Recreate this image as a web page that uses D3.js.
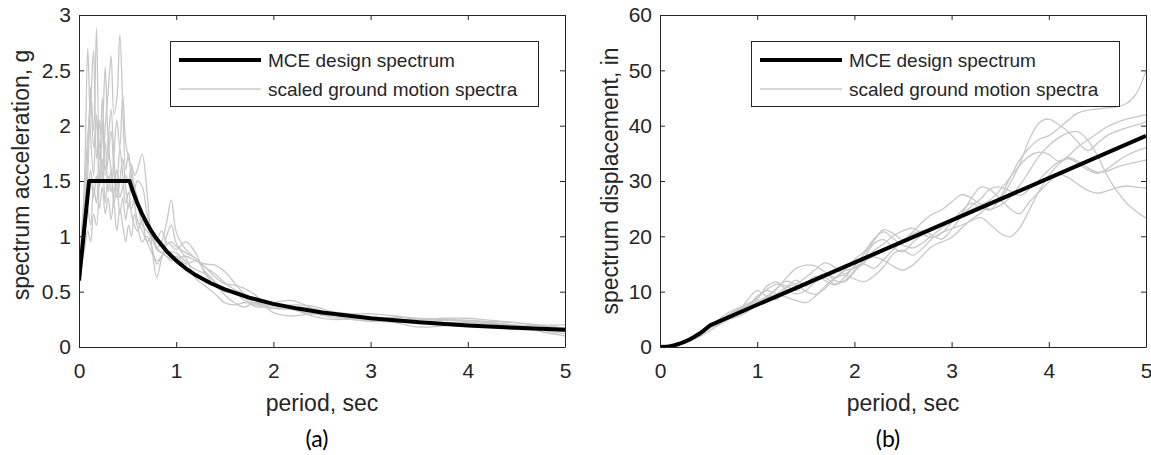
<!DOCTYPE html>
<html>
<head>
<meta charset="utf-8">
<script src="https://cdn.jsdelivr.net/npm/d3@7"></script>
<style>
  html, body { margin: 0; padding: 0; background: #fff; }
  svg { display: block; font-family: "Liberation Sans", Arial, Helvetica, sans-serif; }
</style>
</head>
<body>
<svg id="chart" width="1151" height="455"></svg>
<script>
// ---------- data ----------
const xTicks = [0, 1, 2, 3, 4, 5];
const saTicks = [0, 0.5, 1, 1.5, 2, 2.5, 3];
const sdTicks = [0, 10, 20, 30, 40, 50, 60];
const legendLabels = ["MCE design spectrum", "scaled ground motion spectra"];

// MCE design spectrum, acceleration (g)
const designSaT = [0, 0.104, 0.52, 0.55, 0.6, 0.65, 0.7, 0.75, 0.8, 0.9, 1.0, 1.1, 1.2, 1.35, 1.5, 1.75, 2.0, 2.25, 2.5, 3.0, 3.5, 4.0, 4.5, 5.0];
const designSa  = [0.6, 1.5, 1.5, 1.418, 1.3, 1.2, 1.114, 1.04, 0.975, 0.867, 0.78, 0.709, 0.65, 0.578, 0.52, 0.446, 0.39, 0.347, 0.312, 0.26, 0.223, 0.195, 0.173, 0.156];

// MCE design spectrum, displacement (in)
const designSdT = [0, 0.05, 0.104, 0.15, 0.2, 0.25, 0.3, 0.35, 0.4, 0.45, 0.52, 1.0, 2.0, 3.0, 4.0, 5.0];
const designSd  = [0, 0.025, 0.159, 0.33, 0.587, 0.917, 1.32, 1.797, 2.347, 2.971, 3.967, 7.63, 15.26, 22.89, 30.52, 38.15];

// scaled ground motion spectra, acceleration (g)
const gmSaT = [0, 0.03, 0.06, 0.09, 0.12, 0.15, 0.18, 0.21, 0.24, 0.27, 0.30, 0.33, 0.36, 0.39, 0.42, 0.45, 0.48, 0.51, 0.54, 0.57, 0.60, 0.65, 0.70, 0.75, 0.80, 0.85, 0.90, 0.95, 1.00, 1.10, 1.20, 1.30, 1.40, 1.50, 1.60, 1.70, 1.80, 1.90, 2.00, 2.20, 2.40, 2.60, 2.80, 3.00, 3.25, 3.50, 3.75, 4.00, 4.25, 4.50, 4.75, 5.00];
const gmSa1 = [0.60, 0.95, 1.60, 2.70, 1.90, 1.55, 2.10, 1.70, 2.25, 1.60, 1.85, 2.15, 1.70, 1.45, 1.80, 1.55, 1.30, 1.40, 1.20, 1.10, 1.05, 1.15, 0.95, 1.00, 0.90, 0.95, 1.12, 1.33, 1.04, 0.88, 0.80, 0.72, 0.66, 0.58, 0.52, 0.48, 0.44, 0.38, 0.35, 0.34, 0.33, 0.30, 0.28, 0.26, 0.25, 0.25, 0.25, 0.24, 0.23, 0.22, 0.20, 0.20];
const gmSa2 = [0.58, 0.85, 1.30, 1.75, 2.30, 1.95, 2.88, 1.80, 2.05, 1.55, 1.70, 1.95, 1.60, 1.35, 1.50, 1.70, 1.45, 1.25, 1.55, 1.40, 1.30, 1.20, 1.10, 1.00, 0.98, 1.05, 0.95, 0.92, 0.88, 0.95, 0.85, 0.66, 0.55, 0.50, 0.50, 0.45, 0.37, 0.36, 0.35, 0.36, 0.35, 0.30, 0.25, 0.24, 0.27, 0.25, 0.26, 0.26, 0.24, 0.22, 0.19, 0.17];
const gmSa3 = [0.62, 1.10, 1.45, 1.90, 2.20, 2.68, 1.70, 2.05, 1.50, 1.85, 1.40, 1.60, 1.30, 1.45, 1.20, 1.35, 1.15, 1.30, 1.25, 1.40, 1.50, 1.45, 1.20, 1.05, 0.90, 0.85, 0.82, 0.80, 0.80, 0.82, 0.78, 0.75, 0.74, 0.68, 0.58, 0.48, 0.40, 0.37, 0.40, 0.42, 0.35, 0.30, 0.28, 0.26, 0.24, 0.23, 0.24, 0.23, 0.22, 0.19, 0.14, 0.10];
const gmSa4 = [0.60, 0.80, 1.00, 1.25, 1.10, 1.45, 1.30, 1.75, 1.55, 2.00, 2.30, 2.63, 2.10, 2.25, 2.82, 2.20, 1.60, 1.75, 1.50, 1.30, 1.15, 1.05, 0.95, 0.85, 0.78, 0.82, 1.00, 1.10, 0.94, 0.80, 0.62, 0.55, 0.48, 0.40, 0.38, 0.40, 0.40, 0.38, 0.31, 0.28, 0.30, 0.27, 0.26, 0.25, 0.22, 0.18, 0.19, 0.22, 0.21, 0.18, 0.16, 0.14];
const gmSa5 = [0.55, 0.75, 0.90, 1.05, 0.95, 1.20, 1.10, 1.55, 1.90, 2.53, 1.85, 1.60, 1.30, 1.05, 1.25, 1.10, 0.95, 1.10, 1.00, 1.20, 1.10, 0.95, 1.00, 0.90, 0.75, 0.82, 0.86, 0.86, 0.85, 0.77, 0.70, 0.66, 0.58, 0.47, 0.40, 0.36, 0.40, 0.40, 0.37, 0.34, 0.28, 0.25, 0.25, 0.23, 0.23, 0.22, 0.21, 0.20, 0.18, 0.16, 0.15, 0.12];
const gmSa6 = [0.62, 0.90, 1.20, 1.55, 2.35, 1.80, 2.05, 1.45, 1.70, 1.30, 1.55, 1.40, 1.75, 2.05, 1.80, 2.28, 1.85, 1.70, 1.60, 1.45, 1.35, 1.10, 1.05, 0.98, 0.88, 0.85, 0.82, 0.78, 0.82, 0.75, 0.78, 0.72, 0.63, 0.57, 0.56, 0.53, 0.48, 0.40, 0.37, 0.38, 0.37, 0.32, 0.30, 0.30, 0.28, 0.26, 0.25, 0.24, 0.22, 0.20, 0.19, 0.17];
const gmSa7 = [0.60, 0.85, 1.10, 1.35, 1.60, 1.35, 1.55, 1.25, 1.45, 1.20, 1.35, 1.15, 1.40, 1.60, 1.35, 1.45, 1.55, 1.50, 1.65, 1.55, 1.60, 1.74, 1.40, 0.90, 0.63, 0.80, 0.92, 0.95, 0.91, 0.85, 0.80, 0.68, 0.59, 0.52, 0.50, 0.42, 0.38, 0.39, 0.37, 0.34, 0.30, 0.29, 0.27, 0.25, 0.23, 0.22, 0.22, 0.22, 0.21, 0.19, 0.17, 0.15];

// scaled ground motion spectra, displacement (in)
const gmSdT = [0, 0.1, 0.2, 0.3, 0.4, 0.5, 0.6, 0.7, 0.8, 0.9, 1.0, 1.1, 1.2, 1.3, 1.4, 1.5, 1.6, 1.7, 1.8, 1.9, 2.0, 2.1, 2.2, 2.3, 2.4, 2.5, 2.6, 2.7, 2.8, 2.9, 3.0, 3.1, 3.2, 3.3, 3.4, 3.5, 3.6, 3.7, 3.8, 3.9, 4.0, 4.1, 4.2, 4.3, 4.4, 4.5, 4.6, 4.7, 4.8, 4.9, 5.0];
const gmSd1 = [0, 0.2, 0.7, 1.5, 2.6, 3.6, 4.8, 5.6, 6.3, 8.5, 10.2, 9.1, 8.6, 10.8, 12.1, 11.0, 12.5, 13.2, 12.0, 11.8, 13.6, 16.0, 18.7, 19.4, 18.0, 17.2, 18.9, 20.3, 21.6, 22.0, 22.8, 24.5, 26.0, 25.2, 24.8, 27.0, 30.5, 33.8, 36.0, 37.5, 38.2, 39.5, 41.0, 42.3, 42.8, 43.0, 43.2, 43.4, 44.0, 45.8, 49.9];
const gmSd2 = [0, 0.15, 0.6, 1.3, 2.1, 3.2, 4.4, 5.2, 6.8, 7.9, 8.6, 11.0, 11.7, 10.4, 9.6, 10.2, 11.8, 12.5, 11.4, 12.0, 13.8, 15.2, 17.4, 18.6, 20.1, 21.0, 21.5, 20.4, 19.8, 20.6, 22.5, 24.0, 26.8, 28.9, 28.4, 27.0, 29.5, 33.0, 37.5, 40.5, 41.2, 40.2, 38.9, 37.0, 35.5, 36.8, 38.2, 39.0, 39.6, 40.1, 40.7];
const gmSd3 = [0, 0.1, 0.5, 1.1, 2.0, 3.3, 4.1, 4.9, 5.5, 6.4, 7.8, 9.2, 10.5, 12.5, 14.2, 14.8, 14.6, 13.5, 12.6, 13.9, 15.8, 17.2, 19.5, 20.8, 19.6, 18.4, 17.9, 18.8, 20.2, 21.5, 22.8, 23.6, 24.8, 25.5, 24.9, 25.6, 27.0, 29.2, 31.8, 34.5, 36.4, 37.8, 38.7, 38.9, 37.4, 34.6, 31.0, 28.2, 26.0, 24.5, 23.3];
const gmSd4 = [0, 0.1, 0.4, 1.0, 1.8, 2.8, 3.9, 5.0, 6.0, 7.2, 9.2, 10.2, 9.6, 9.0, 8.4, 8.0, 9.2, 11.0, 12.4, 13.0, 12.3, 11.8, 12.8, 14.5, 16.8, 17.5, 16.6, 17.8, 19.6, 20.7, 21.4, 22.0, 22.8, 23.4, 22.1, 20.6, 19.9, 21.5, 24.8, 28.2, 31.0, 33.0, 34.2, 33.5, 32.4, 31.6, 31.8, 32.5, 33.0, 33.4, 33.8];
const gmSd5 = [0, 0.2, 0.8, 1.6, 2.6, 3.9, 4.6, 5.8, 6.9, 7.5, 8.3, 8.9, 9.6, 10.8, 11.2, 10.1, 9.5, 10.6, 12.4, 13.8, 14.2, 15.5, 16.3, 15.7, 14.6, 13.9, 14.8, 16.5, 18.2, 19.0, 19.8, 21.4, 23.0, 24.2, 25.8, 26.5, 25.0, 24.1, 26.2, 28.0, 29.8, 31.2, 30.6, 29.4, 28.3, 27.8, 28.2, 28.8, 29.1, 28.9, 28.7];
const gmSd6 = [0, 0.1, 0.5, 1.2, 2.2, 3.4, 4.3, 5.5, 6.6, 7.4, 8.0, 8.8, 10.6, 11.9, 11.4, 12.6, 14.0, 15.2, 14.4, 13.2, 14.6, 16.8, 19.2, 21.2, 20.5, 19.4, 20.8, 22.6, 24.0, 24.8, 26.2, 27.5, 27.0, 25.8, 26.6, 28.4, 30.6, 32.8, 34.5, 35.2, 34.8, 33.6, 34.5, 36.2, 37.4, 38.6, 39.8, 40.6, 41.2, 41.6, 42.0];
const gmSd7 = [0, 0.15, 0.6, 1.4, 2.4, 3.5, 4.9, 6.2, 7.0, 7.6, 8.9, 10.4, 11.3, 11.0, 10.2, 11.4, 12.8, 12.0, 11.2, 12.6, 14.4, 15.0, 14.2, 15.8, 17.6, 19.2, 20.4, 21.0, 20.2, 19.5, 21.2, 23.6, 25.4, 26.8, 28.6, 28.9, 28.2, 27.4, 28.5, 30.2, 32.0, 33.4, 34.0, 33.2, 32.0, 31.4, 32.2, 33.5, 34.6, 35.4, 36.0];

// ---------- drawing ----------
const svg = d3.select("#chart");
const INK = "#262626";
const GRAY = "#c8c8c8";
const TOP = 15, BOTTOM = 347;

function drawPanel(p) {
  const g = svg.append("g");
  const x = d3.scaleLinear().domain([0, 5]).range([p.left, p.right]);
  const y = d3.scaleLinear().domain([p.yTicks[0], p.yTicks[p.yTicks.length - 1]]).range([BOTTOM, TOP]);

  g.append("clipPath").attr("id", p.id + "-clip")
    .append("rect").attr("x", p.left).attr("y", TOP).attr("width", p.right - p.left).attr("height", BOTTOM - TOP);

  const plot = g.append("g").attr("clip-path", `url(#${p.id}-clip)`);
  const smooth = d3.line().x(d => x(d[0])).y(d => y(d[1])).curve(d3.curveCatmullRom.alpha(0.5));
  const straight = d3.line().x(d => x(d[0])).y(d => y(d[1]));

  p.records.forEach(r => {
    plot.append("path")
      .datum(p.recT.map((t, i) => [t, r[i]]))
      .attr("d", smooth)
      .attr("fill", "none").attr("stroke", GRAY).attr("stroke-width", 1.3)
      .attr("stroke-linejoin", "round");
  });

  plot.append("path")
    .datum(p.designT.map((t, i) => [t, p.design[i]]))
    .attr("d", straight)
    .attr("fill", "none").attr("stroke", "#000").attr("stroke-width", 4)
    .attr("stroke-linejoin", "round");

  // axes on all four sides, ticks pointing inward
  const fmt = d => String(d);
  const axes = [
    { a: d3.axisBottom(x).tickValues(xTicks).tickFormat(fmt).tickPadding(16), t: `translate(0,${BOTTOM})` },
    { a: d3.axisTop(x).tickValues(xTicks).tickFormat(() => ""), t: `translate(0,${TOP})` },
    { a: d3.axisLeft(y).tickValues(p.yTicks).tickFormat(fmt).tickPadding(8), t: `translate(${p.left},0)` },
    { a: d3.axisRight(y).tickValues(p.yTicks).tickFormat(() => ""), t: `translate(${p.right},0)` }
  ];
  axes.forEach(o => {
    const ag = g.append("g").attr("transform", o.t)
      .call(o.a.tickSizeInner(-5).tickSizeOuter(0));
    ag.attr("font-size", 21).attr("font-family", null).attr("color", INK);
    ag.selectAll("path, line").attr("stroke", INK);
  });

  // axis titles
  g.append("text")
    .attr("x", (p.left + p.right) / 2).attr("y", 411)
    .attr("text-anchor", "middle").attr("font-size", 23).attr("fill", INK)
    .text("period, sec");
  g.append("text")
    .attr("transform", `translate(${p.yLabelX},${p.yLabelY}) rotate(-90)`)
    .attr("text-anchor", "middle").attr("font-size", 23).attr("fill", INK)
    .text(p.yLabel);

  // legend
  const lx = p.right - 395, ly = 41;
  const lg = g.append("g").attr("transform", `translate(${lx},${ly})`);
  lg.append("rect").attr("x", 0.5).attr("y", 0.5).attr("width", 368).attr("height", 65)
    .attr("fill", "#fff").attr("stroke", INK).attr("stroke-width", 1);
  const entries = [
    { label: legendLabels[0], color: "#000", w: 4, yy: 19 },
    { label: legendLabels[1], color: GRAY, w: 1.3, yy: 48 }
  ];
  entries.forEach(e => {
    lg.append("line").attr("x1", 9).attr("x2", 91).attr("y1", e.yy).attr("y2", e.yy)
      .attr("stroke", e.color).attr("stroke-width", e.w);
    lg.append("text").attr("x", 98).attr("y", e.yy).attr("dy", "0.36em")
      .attr("font-size", 19).attr("fill", INK).text(e.label);
  });

  // panel caption
  svg.append("text")
    .attr("x", p.captionX).attr("y", 447)
    .attr("text-anchor", "middle")
    .attr("font-family", "Lato, 'Open Sans', sans-serif")
    .attr("font-size", 23).attr("fill", "#000")
    .text(p.caption);
}

drawPanel({
  id: "sa", left: 79, right: 565, yTicks: saTicks,
  recT: gmSaT, records: [gmSa1, gmSa2, gmSa3, gmSa4, gmSa5, gmSa6, gmSa7],
  designT: designSaT, design: designSa,
  yLabel: "spectrum acceleration, g", yLabelX: 29, yLabelY: 175,
  caption: "(a)", captionX: 317
});

drawPanel({
  id: "sd", left: 660, right: 1146, yTicks: sdTicks,
  recT: gmSdT, records: [gmSd1, gmSd2, gmSd3, gmSd4, gmSd5, gmSd6, gmSd7],
  designT: designSdT, design: designSd,
  yLabel: "spectrum displacement, in", yLabelX: 618, yLabelY: 181,
  caption: "(b)", captionX: 888
});
</script>
</body>
</html>
